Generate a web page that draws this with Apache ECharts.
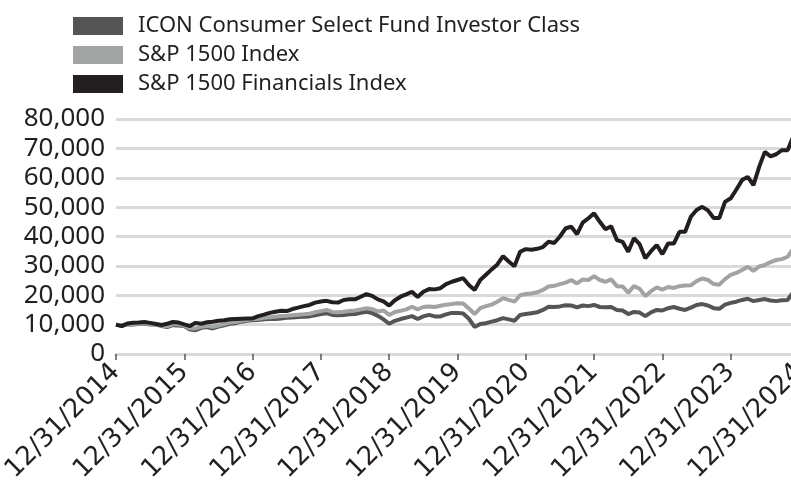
<!DOCTYPE html>
<html>
<head>
<meta charset="utf-8">
<script src="https://cdn.jsdelivr.net/npm/echarts@6/dist/echarts.min.js"></script>
<style>html,body{margin:0;padding:0;background:#fff;}#c{width:791px;height:485px;}</style>
</head>
<body>
<div id="c"></div>
<script>
var tickLabels = ['12/31/2014','12/31/2015','12/31/2016','12/31/2017','12/31/2018','12/31/2019','12/31/2020','12/31/2021','12/31/2022','12/31/2023','12/31/2024'];
var seriesNames = ['ICON Consumer Select Fund Investor Class','S&P 1500 Index','S&P 1500 Financials Index'];
var iconFund = [10000,9600,10100,10000,10200,10300,10000,10100,9500,9200,9800,9700,
9500,8300,8100,8900,9200,8700,9300,9800,10300,10500,11000,11300,
11500,11600,11800,11900,11900,12100,12300,12400,12600,12700,12800,13200,
13600,13900,13300,13200,13300,13500,13600,14000,14400,13900,13000,11800,
10300,11300,11900,12400,12900,11900,12800,13300,12800,12800,13500,14000,
14000,13800,12000,9200,10200,10500,11000,11500,12200,11800,11300,13300,
13600,13900,14200,15000,16100,16000,16200,16600,16500,15900,16500,16300,
16700,16000,15900,16000,15000,14800,13600,14300,14100,12900,14200,15000,
14800,15600,16000,15400,15000,15800,16700,17000,16500,15600,15400,16800,
17400,17800,18400,18800,18000,18400,18700,18200,18000,18300,18400,21100,
19800];
var sp1500 = [10000,9700,10200,10100,10300,10400,10200,10300,9700,9400,10100,10100,
9700,8800,8700,9300,9600,9300,9700,10200,10700,10900,11300,11600,
11800,12000,12300,12500,12700,12900,13000,13200,13400,13500,13700,14200,
14600,15000,14300,14200,14400,14600,14800,15200,15600,15300,14500,14800,
13300,14300,14700,15200,16100,15200,16000,16200,16000,16400,16800,17000,
17300,17200,15500,13600,15600,16300,16800,17800,19000,18400,17800,20000,
20400,20600,21000,21800,23000,23200,23800,24300,25200,24000,25400,25200,
26500,25200,24600,25400,23100,23000,20900,23100,22200,19700,21400,22700,
21900,22800,22500,23100,23300,23400,24800,25700,25200,23800,23600,25500,
26900,27600,28600,29700,28300,29800,30300,31300,32000,32300,33100,35900,
34500];
var financials = [10000,9500,10400,10600,10700,10900,10600,10200,9900,10300,10900,10700,
10100,9500,10600,10300,10800,11000,11300,11500,11800,11900,12000,12100,
12100,12900,13400,14000,14400,14700,14600,15300,15800,16300,16700,17500,
17900,18100,17600,17500,18400,18600,18600,19500,20400,19800,18600,17900,
16500,18300,19500,20300,21200,19400,21200,22100,22000,22400,23800,24600,
25200,25800,23500,21800,25200,27000,28800,30500,33300,31500,29900,34800,
35700,35500,35800,36400,38200,37800,40000,42800,43300,40800,44700,46200,
47900,45000,42500,43500,38800,38200,34800,39400,37400,32600,35000,37100,
34000,37600,37600,41600,41600,46700,49000,50100,48900,46300,46300,51800,
53000,56000,59200,60300,57500,63700,68800,67300,68000,69400,69400,74100,
71000];
var colors = ['#555555','#a2a4a4','#231f20'];

var categories = [];
for (var i = 0; i < iconFund.length; i++) categories.push(i);

var chart = echarts.init(document.getElementById('c'));
var textColor = '#231f20';
chart.setOption({
  animation: false,
  backgroundColor: '#ffffff',
  legend: {
    orient: 'vertical',
    left: 68, top: 10,
    itemWidth: 50, itemHeight: 18, itemGap: 7,
    icon: 'rect',
    data: seriesNames,
    textStyle: { fontFamily: 'Noto Sans', fontSize: 22, color: textColor, padding: [0,0,0,10] }
  },
  grid: { left: 116, right: -8, top: 119, bottom: 131, containLabel: false, outerBoundsMode: 'none' },
  xAxis: {
    type: 'category',
    boundaryGap: false,
    data: categories,
    axisLine: { show: true, lineStyle: { color: '#d9d9d9', width: 3 } },
    axisTick: { show: true, length: 6, lineStyle: { color: '#555', width: 1.5 }, interval: function (idx) { return idx % 12 === 0; } },
    axisLabel: {
      interval: function (idx) { return idx % 12 === 0; },
      formatter: function (v, idx) { return tickLabels[idx / 12] || ''; },
      rotate: 45, fontFamily: 'DejaVu Sans', fontSize: 26, color: textColor, margin: 14,
      hideOverlap: false
    },
    splitLine: { show: false }
  },
  yAxis: {
    type: 'value', min: 0, max: 80000, interval: 10000,
    axisLine: { show: false }, axisTick: { show: false },
    axisLabel: {
      fontFamily: 'Noto Sans', fontSize: 26, color: textColor, margin: 11,
      formatter: function (v) { return v.toLocaleString('en-US'); }
    },
    splitLine: { lineStyle: { color: '#d9d9d9', width: 3 } }
  },
  series: [
    { name: seriesNames[0], type: 'line', data: iconFund, showSymbol: false, symbol: 'none', lineStyle: { color: colors[0], width: 4 }, itemStyle: { color: colors[0] } },
    { name: seriesNames[1], type: 'line', data: sp1500, showSymbol: false, symbol: 'none', lineStyle: { color: colors[1], width: 4 }, itemStyle: { color: colors[1] } },
    { name: seriesNames[2], type: 'line', data: financials, showSymbol: false, symbol: 'none', lineStyle: { color: colors[2], width: 4 }, itemStyle: { color: colors[2] } }
  ]
});
</script>
</body>
</html>
